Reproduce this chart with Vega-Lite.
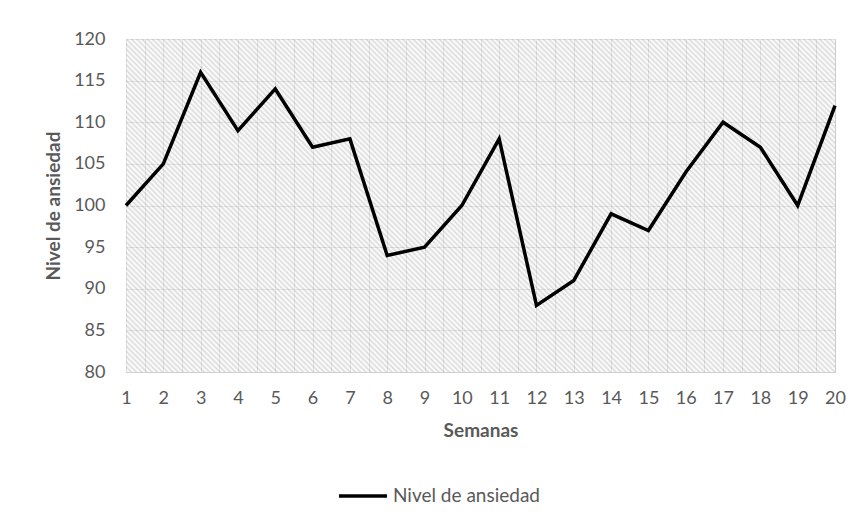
{
  "$schema": "https://vega.github.io/schema/vega-lite/v6.json",
  "width": 709,
  "height": 333,
  "autosize": "none",
  "padding": {"left": 126, "top": 39, "right": 25, "bottom": 150},
  "background": "white",
  "config": {"view": {"stroke": null, "fill": "white"}, "font": "Lato", "axis": {"labelOverlap": false, "grid": true}},
  "data": {"values": [
    {"semana": 1, "nivel": 100, "serie": "Nivel de ansiedad"},
    {"semana": 2, "nivel": 105, "serie": "Nivel de ansiedad"},
    {"semana": 3, "nivel": 116, "serie": "Nivel de ansiedad"},
    {"semana": 4, "nivel": 109, "serie": "Nivel de ansiedad"},
    {"semana": 5, "nivel": 114, "serie": "Nivel de ansiedad"},
    {"semana": 6, "nivel": 107, "serie": "Nivel de ansiedad"},
    {"semana": 7, "nivel": 108, "serie": "Nivel de ansiedad"},
    {"semana": 8, "nivel": 94, "serie": "Nivel de ansiedad"},
    {"semana": 9, "nivel": 95, "serie": "Nivel de ansiedad"},
    {"semana": 10, "nivel": 100, "serie": "Nivel de ansiedad"},
    {"semana": 11, "nivel": 108, "serie": "Nivel de ansiedad"},
    {"semana": 12, "nivel": 88, "serie": "Nivel de ansiedad"},
    {"semana": 13, "nivel": 91, "serie": "Nivel de ansiedad"},
    {"semana": 14, "nivel": 99, "serie": "Nivel de ansiedad"},
    {"semana": 15, "nivel": 97, "serie": "Nivel de ansiedad"},
    {"semana": 16, "nivel": 104, "serie": "Nivel de ansiedad"},
    {"semana": 17, "nivel": 110, "serie": "Nivel de ansiedad"},
    {"semana": 18, "nivel": 107, "serie": "Nivel de ansiedad"},
    {"semana": 19, "nivel": 100, "serie": "Nivel de ansiedad"},
    {"semana": 20, "nivel": 112, "serie": "Nivel de ansiedad"}
  ]},
  "layer": [
    {
      "data": {"values": [{}]},
      "mark": {"type": "rect", "opacity": 0.6, "fill": {"gradient": "linear", "x1": 0, "y1": 1, "x2": 1.204, "y2": 0.434, "stops": [
{"offset":0,"color":"#c4c4c4"},{"offset":0.0025,"color":"#ffffff"},{"offset":0.005,"color":"#c4c4c4"},{"offset":0.0075,"color":"#ffffff"},
{"offset":0.01,"color":"#c4c4c4"},{"offset":0.0125,"color":"#ffffff"},{"offset":0.015,"color":"#c4c4c4"},{"offset":0.0175,"color":"#ffffff"},
{"offset":0.02,"color":"#c4c4c4"},{"offset":0.0225,"color":"#ffffff"},{"offset":0.025,"color":"#c4c4c4"},{"offset":0.0275,"color":"#ffffff"},
{"offset":0.03,"color":"#c4c4c4"},{"offset":0.0325,"color":"#ffffff"},{"offset":0.035,"color":"#c4c4c4"},{"offset":0.0375,"color":"#ffffff"},
{"offset":0.04,"color":"#c4c4c4"},{"offset":0.0425,"color":"#ffffff"},{"offset":0.045,"color":"#c4c4c4"},{"offset":0.0475,"color":"#ffffff"},
{"offset":0.05,"color":"#c4c4c4"},{"offset":0.0525,"color":"#ffffff"},{"offset":0.055,"color":"#c4c4c4"},{"offset":0.0575,"color":"#ffffff"},
{"offset":0.06,"color":"#c4c4c4"},{"offset":0.0625,"color":"#ffffff"},{"offset":0.065,"color":"#c4c4c4"},{"offset":0.0675,"color":"#ffffff"},
{"offset":0.07,"color":"#c4c4c4"},{"offset":0.0725,"color":"#ffffff"},{"offset":0.075,"color":"#c4c4c4"},{"offset":0.0775,"color":"#ffffff"},
{"offset":0.08,"color":"#c4c4c4"},{"offset":0.0825,"color":"#ffffff"},{"offset":0.085,"color":"#c4c4c4"},{"offset":0.0875,"color":"#ffffff"},
{"offset":0.09,"color":"#c4c4c4"},{"offset":0.0925,"color":"#ffffff"},{"offset":0.095,"color":"#c4c4c4"},{"offset":0.0975,"color":"#ffffff"},
{"offset":0.1,"color":"#c4c4c4"},{"offset":0.1025,"color":"#ffffff"},{"offset":0.105,"color":"#c4c4c4"},{"offset":0.1075,"color":"#ffffff"},
{"offset":0.11,"color":"#c4c4c4"},{"offset":0.1125,"color":"#ffffff"},{"offset":0.115,"color":"#c4c4c4"},{"offset":0.1175,"color":"#ffffff"},
{"offset":0.12,"color":"#c4c4c4"},{"offset":0.1225,"color":"#ffffff"},{"offset":0.125,"color":"#c4c4c4"},{"offset":0.1275,"color":"#ffffff"},
{"offset":0.13,"color":"#c4c4c4"},{"offset":0.1325,"color":"#ffffff"},{"offset":0.135,"color":"#c4c4c4"},{"offset":0.1375,"color":"#ffffff"},
{"offset":0.14,"color":"#c4c4c4"},{"offset":0.1425,"color":"#ffffff"},{"offset":0.145,"color":"#c4c4c4"},{"offset":0.1475,"color":"#ffffff"},
{"offset":0.15,"color":"#c4c4c4"},{"offset":0.1525,"color":"#ffffff"},{"offset":0.155,"color":"#c4c4c4"},{"offset":0.1575,"color":"#ffffff"},
{"offset":0.16,"color":"#c4c4c4"},{"offset":0.1625,"color":"#ffffff"},{"offset":0.165,"color":"#c4c4c4"},{"offset":0.1675,"color":"#ffffff"},
{"offset":0.17,"color":"#c4c4c4"},{"offset":0.1725,"color":"#ffffff"},{"offset":0.175,"color":"#c4c4c4"},{"offset":0.1775,"color":"#ffffff"},
{"offset":0.18,"color":"#c4c4c4"},{"offset":0.1825,"color":"#ffffff"},{"offset":0.185,"color":"#c4c4c4"},{"offset":0.1875,"color":"#ffffff"},
{"offset":0.19,"color":"#c4c4c4"},{"offset":0.1925,"color":"#ffffff"},{"offset":0.195,"color":"#c4c4c4"},{"offset":0.1975,"color":"#ffffff"},
{"offset":0.2,"color":"#c4c4c4"},{"offset":0.2025,"color":"#ffffff"},{"offset":0.205,"color":"#c4c4c4"},{"offset":0.2075,"color":"#ffffff"},
{"offset":0.21,"color":"#c4c4c4"},{"offset":0.2125,"color":"#ffffff"},{"offset":0.215,"color":"#c4c4c4"},{"offset":0.2175,"color":"#ffffff"},
{"offset":0.22,"color":"#c4c4c4"},{"offset":0.2225,"color":"#ffffff"},{"offset":0.225,"color":"#c4c4c4"},{"offset":0.2275,"color":"#ffffff"},
{"offset":0.23,"color":"#c4c4c4"},{"offset":0.2325,"color":"#ffffff"},{"offset":0.235,"color":"#c4c4c4"},{"offset":0.2375,"color":"#ffffff"},
{"offset":0.24,"color":"#c4c4c4"},{"offset":0.2425,"color":"#ffffff"},{"offset":0.245,"color":"#c4c4c4"},{"offset":0.2475,"color":"#ffffff"},
{"offset":0.25,"color":"#c4c4c4"},{"offset":0.2525,"color":"#ffffff"},{"offset":0.255,"color":"#c4c4c4"},{"offset":0.2575,"color":"#ffffff"},
{"offset":0.26,"color":"#c4c4c4"},{"offset":0.2625,"color":"#ffffff"},{"offset":0.265,"color":"#c4c4c4"},{"offset":0.2675,"color":"#ffffff"},
{"offset":0.27,"color":"#c4c4c4"},{"offset":0.2725,"color":"#ffffff"},{"offset":0.275,"color":"#c4c4c4"},{"offset":0.2775,"color":"#ffffff"},
{"offset":0.28,"color":"#c4c4c4"},{"offset":0.2825,"color":"#ffffff"},{"offset":0.285,"color":"#c4c4c4"},{"offset":0.2875,"color":"#ffffff"},
{"offset":0.29,"color":"#c4c4c4"},{"offset":0.2925,"color":"#ffffff"},{"offset":0.295,"color":"#c4c4c4"},{"offset":0.2975,"color":"#ffffff"},
{"offset":0.3,"color":"#c4c4c4"},{"offset":0.3025,"color":"#ffffff"},{"offset":0.305,"color":"#c4c4c4"},{"offset":0.3075,"color":"#ffffff"},
{"offset":0.31,"color":"#c4c4c4"},{"offset":0.3125,"color":"#ffffff"},{"offset":0.315,"color":"#c4c4c4"},{"offset":0.3175,"color":"#ffffff"},
{"offset":0.32,"color":"#c4c4c4"},{"offset":0.3225,"color":"#ffffff"},{"offset":0.325,"color":"#c4c4c4"},{"offset":0.3275,"color":"#ffffff"},
{"offset":0.33,"color":"#c4c4c4"},{"offset":0.3325,"color":"#ffffff"},{"offset":0.335,"color":"#c4c4c4"},{"offset":0.3375,"color":"#ffffff"},
{"offset":0.34,"color":"#c4c4c4"},{"offset":0.3425,"color":"#ffffff"},{"offset":0.345,"color":"#c4c4c4"},{"offset":0.3475,"color":"#ffffff"},
{"offset":0.35,"color":"#c4c4c4"},{"offset":0.3525,"color":"#ffffff"},{"offset":0.355,"color":"#c4c4c4"},{"offset":0.3575,"color":"#ffffff"},
{"offset":0.36,"color":"#c4c4c4"},{"offset":0.3625,"color":"#ffffff"},{"offset":0.365,"color":"#c4c4c4"},{"offset":0.3675,"color":"#ffffff"},
{"offset":0.37,"color":"#c4c4c4"},{"offset":0.3725,"color":"#ffffff"},{"offset":0.375,"color":"#c4c4c4"},{"offset":0.3775,"color":"#ffffff"},
{"offset":0.38,"color":"#c4c4c4"},{"offset":0.3825,"color":"#ffffff"},{"offset":0.385,"color":"#c4c4c4"},{"offset":0.3875,"color":"#ffffff"},
{"offset":0.39,"color":"#c4c4c4"},{"offset":0.3925,"color":"#ffffff"},{"offset":0.395,"color":"#c4c4c4"},{"offset":0.3975,"color":"#ffffff"},
{"offset":0.4,"color":"#c4c4c4"},{"offset":0.4025,"color":"#ffffff"},{"offset":0.405,"color":"#c4c4c4"},{"offset":0.4075,"color":"#ffffff"},
{"offset":0.41,"color":"#c4c4c4"},{"offset":0.4125,"color":"#ffffff"},{"offset":0.415,"color":"#c4c4c4"},{"offset":0.4175,"color":"#ffffff"},
{"offset":0.42,"color":"#c4c4c4"},{"offset":0.4225,"color":"#ffffff"},{"offset":0.425,"color":"#c4c4c4"},{"offset":0.4275,"color":"#ffffff"},
{"offset":0.43,"color":"#c4c4c4"},{"offset":0.4325,"color":"#ffffff"},{"offset":0.435,"color":"#c4c4c4"},{"offset":0.4375,"color":"#ffffff"},
{"offset":0.44,"color":"#c4c4c4"},{"offset":0.4425,"color":"#ffffff"},{"offset":0.445,"color":"#c4c4c4"},{"offset":0.4475,"color":"#ffffff"},
{"offset":0.45,"color":"#c4c4c4"},{"offset":0.4525,"color":"#ffffff"},{"offset":0.455,"color":"#c4c4c4"},{"offset":0.4575,"color":"#ffffff"},
{"offset":0.46,"color":"#c4c4c4"},{"offset":0.4625,"color":"#ffffff"},{"offset":0.465,"color":"#c4c4c4"},{"offset":0.4675,"color":"#ffffff"},
{"offset":0.47,"color":"#c4c4c4"},{"offset":0.4725,"color":"#ffffff"},{"offset":0.475,"color":"#c4c4c4"},{"offset":0.4775,"color":"#ffffff"},
{"offset":0.48,"color":"#c4c4c4"},{"offset":0.4825,"color":"#ffffff"},{"offset":0.485,"color":"#c4c4c4"},{"offset":0.4875,"color":"#ffffff"},
{"offset":0.49,"color":"#c4c4c4"},{"offset":0.4925,"color":"#ffffff"},{"offset":0.495,"color":"#c4c4c4"},{"offset":0.4975,"color":"#ffffff"},
{"offset":0.5,"color":"#c4c4c4"},{"offset":0.5025,"color":"#ffffff"},{"offset":0.505,"color":"#c4c4c4"},{"offset":0.5075,"color":"#ffffff"},
{"offset":0.51,"color":"#c4c4c4"},{"offset":0.5125,"color":"#ffffff"},{"offset":0.515,"color":"#c4c4c4"},{"offset":0.5175,"color":"#ffffff"},
{"offset":0.52,"color":"#c4c4c4"},{"offset":0.5225,"color":"#ffffff"},{"offset":0.525,"color":"#c4c4c4"},{"offset":0.5275,"color":"#ffffff"},
{"offset":0.53,"color":"#c4c4c4"},{"offset":0.5325,"color":"#ffffff"},{"offset":0.535,"color":"#c4c4c4"},{"offset":0.5375,"color":"#ffffff"},
{"offset":0.54,"color":"#c4c4c4"},{"offset":0.5425,"color":"#ffffff"},{"offset":0.545,"color":"#c4c4c4"},{"offset":0.5475,"color":"#ffffff"},
{"offset":0.55,"color":"#c4c4c4"},{"offset":0.5525,"color":"#ffffff"},{"offset":0.555,"color":"#c4c4c4"},{"offset":0.5575,"color":"#ffffff"},
{"offset":0.56,"color":"#c4c4c4"},{"offset":0.5625,"color":"#ffffff"},{"offset":0.565,"color":"#c4c4c4"},{"offset":0.5675,"color":"#ffffff"},
{"offset":0.57,"color":"#c4c4c4"},{"offset":0.5725,"color":"#ffffff"},{"offset":0.575,"color":"#c4c4c4"},{"offset":0.5775,"color":"#ffffff"},
{"offset":0.58,"color":"#c4c4c4"},{"offset":0.5825,"color":"#ffffff"},{"offset":0.585,"color":"#c4c4c4"},{"offset":0.5875,"color":"#ffffff"},
{"offset":0.59,"color":"#c4c4c4"},{"offset":0.5925,"color":"#ffffff"},{"offset":0.595,"color":"#c4c4c4"},{"offset":0.5975,"color":"#ffffff"},
{"offset":0.6,"color":"#c4c4c4"},{"offset":0.6025,"color":"#ffffff"},{"offset":0.605,"color":"#c4c4c4"},{"offset":0.6075,"color":"#ffffff"},
{"offset":0.61,"color":"#c4c4c4"},{"offset":0.6125,"color":"#ffffff"},{"offset":0.615,"color":"#c4c4c4"},{"offset":0.6175,"color":"#ffffff"},
{"offset":0.62,"color":"#c4c4c4"},{"offset":0.6225,"color":"#ffffff"},{"offset":0.625,"color":"#c4c4c4"},{"offset":0.6275,"color":"#ffffff"},
{"offset":0.63,"color":"#c4c4c4"},{"offset":0.6325,"color":"#ffffff"},{"offset":0.635,"color":"#c4c4c4"},{"offset":0.6375,"color":"#ffffff"},
{"offset":0.64,"color":"#c4c4c4"},{"offset":0.6425,"color":"#ffffff"},{"offset":0.645,"color":"#c4c4c4"},{"offset":0.6475,"color":"#ffffff"},
{"offset":0.65,"color":"#c4c4c4"},{"offset":0.6525,"color":"#ffffff"},{"offset":0.655,"color":"#c4c4c4"},{"offset":0.6575,"color":"#ffffff"},
{"offset":0.66,"color":"#c4c4c4"},{"offset":0.6625,"color":"#ffffff"},{"offset":0.665,"color":"#c4c4c4"},{"offset":0.6675,"color":"#ffffff"},
{"offset":0.67,"color":"#c4c4c4"},{"offset":0.6725,"color":"#ffffff"},{"offset":0.675,"color":"#c4c4c4"},{"offset":0.6775,"color":"#ffffff"},
{"offset":0.68,"color":"#c4c4c4"},{"offset":0.6825,"color":"#ffffff"},{"offset":0.685,"color":"#c4c4c4"},{"offset":0.6875,"color":"#ffffff"},
{"offset":0.69,"color":"#c4c4c4"},{"offset":0.6925,"color":"#ffffff"},{"offset":0.695,"color":"#c4c4c4"},{"offset":0.6975,"color":"#ffffff"},
{"offset":0.7,"color":"#c4c4c4"},{"offset":0.7025,"color":"#ffffff"},{"offset":0.705,"color":"#c4c4c4"},{"offset":0.7075,"color":"#ffffff"},
{"offset":0.71,"color":"#c4c4c4"},{"offset":0.7125,"color":"#ffffff"},{"offset":0.715,"color":"#c4c4c4"},{"offset":0.7175,"color":"#ffffff"},
{"offset":0.72,"color":"#c4c4c4"},{"offset":0.7225,"color":"#ffffff"},{"offset":0.725,"color":"#c4c4c4"},{"offset":0.7275,"color":"#ffffff"},
{"offset":0.73,"color":"#c4c4c4"},{"offset":0.7325,"color":"#ffffff"},{"offset":0.735,"color":"#c4c4c4"},{"offset":0.7375,"color":"#ffffff"},
{"offset":0.74,"color":"#c4c4c4"},{"offset":0.7425,"color":"#ffffff"},{"offset":0.745,"color":"#c4c4c4"},{"offset":0.7475,"color":"#ffffff"},
{"offset":0.75,"color":"#c4c4c4"},{"offset":0.7525,"color":"#ffffff"},{"offset":0.755,"color":"#c4c4c4"},{"offset":0.7575,"color":"#ffffff"},
{"offset":0.76,"color":"#c4c4c4"},{"offset":0.7625,"color":"#ffffff"},{"offset":0.765,"color":"#c4c4c4"},{"offset":0.7675,"color":"#ffffff"},
{"offset":0.77,"color":"#c4c4c4"},{"offset":0.7725,"color":"#ffffff"},{"offset":0.775,"color":"#c4c4c4"},{"offset":0.7775,"color":"#ffffff"},
{"offset":0.78,"color":"#c4c4c4"},{"offset":0.7825,"color":"#ffffff"},{"offset":0.785,"color":"#c4c4c4"},{"offset":0.7875,"color":"#ffffff"},
{"offset":0.79,"color":"#c4c4c4"},{"offset":0.7925,"color":"#ffffff"},{"offset":0.795,"color":"#c4c4c4"},{"offset":0.7975,"color":"#ffffff"},
{"offset":0.8,"color":"#c4c4c4"},{"offset":0.8025,"color":"#ffffff"},{"offset":0.805,"color":"#c4c4c4"},{"offset":0.8075,"color":"#ffffff"},
{"offset":0.81,"color":"#c4c4c4"},{"offset":0.8125,"color":"#ffffff"},{"offset":0.815,"color":"#c4c4c4"},{"offset":0.8175,"color":"#ffffff"},
{"offset":0.82,"color":"#c4c4c4"},{"offset":0.8225,"color":"#ffffff"},{"offset":0.825,"color":"#c4c4c4"},{"offset":0.8275,"color":"#ffffff"},
{"offset":0.83,"color":"#c4c4c4"},{"offset":0.8325,"color":"#ffffff"},{"offset":0.835,"color":"#c4c4c4"},{"offset":0.8375,"color":"#ffffff"},
{"offset":0.84,"color":"#c4c4c4"},{"offset":0.8425,"color":"#ffffff"},{"offset":0.845,"color":"#c4c4c4"},{"offset":0.8475,"color":"#ffffff"},
{"offset":0.85,"color":"#c4c4c4"},{"offset":0.8525,"color":"#ffffff"},{"offset":0.855,"color":"#c4c4c4"},{"offset":0.8575,"color":"#ffffff"},
{"offset":0.86,"color":"#c4c4c4"},{"offset":0.8625,"color":"#ffffff"},{"offset":0.865,"color":"#c4c4c4"},{"offset":0.8675,"color":"#ffffff"},
{"offset":0.87,"color":"#c4c4c4"},{"offset":0.8725,"color":"#ffffff"},{"offset":0.875,"color":"#c4c4c4"},{"offset":0.8775,"color":"#ffffff"},
{"offset":0.88,"color":"#c4c4c4"},{"offset":0.8825,"color":"#ffffff"},{"offset":0.885,"color":"#c4c4c4"},{"offset":0.8875,"color":"#ffffff"},
{"offset":0.89,"color":"#c4c4c4"},{"offset":0.8925,"color":"#ffffff"},{"offset":0.895,"color":"#c4c4c4"},{"offset":0.8975,"color":"#ffffff"},
{"offset":0.9,"color":"#c4c4c4"},{"offset":0.9025,"color":"#ffffff"},{"offset":0.905,"color":"#c4c4c4"},{"offset":0.9075,"color":"#ffffff"},
{"offset":0.91,"color":"#c4c4c4"},{"offset":0.9125,"color":"#ffffff"},{"offset":0.915,"color":"#c4c4c4"},{"offset":0.9175,"color":"#ffffff"},
{"offset":0.92,"color":"#c4c4c4"},{"offset":0.9225,"color":"#ffffff"},{"offset":0.925,"color":"#c4c4c4"},{"offset":0.9275,"color":"#ffffff"},
{"offset":0.93,"color":"#c4c4c4"},{"offset":0.9325,"color":"#ffffff"},{"offset":0.935,"color":"#c4c4c4"},{"offset":0.9375,"color":"#ffffff"},
{"offset":0.94,"color":"#c4c4c4"},{"offset":0.9425,"color":"#ffffff"},{"offset":0.945,"color":"#c4c4c4"},{"offset":0.9475,"color":"#ffffff"},
{"offset":0.95,"color":"#c4c4c4"},{"offset":0.9525,"color":"#ffffff"},{"offset":0.955,"color":"#c4c4c4"},{"offset":0.9575,"color":"#ffffff"},
{"offset":0.96,"color":"#c4c4c4"},{"offset":0.9625,"color":"#ffffff"},{"offset":0.965,"color":"#c4c4c4"},{"offset":0.9675,"color":"#ffffff"},
{"offset":0.97,"color":"#c4c4c4"},{"offset":0.9725,"color":"#ffffff"},{"offset":0.975,"color":"#c4c4c4"},{"offset":0.9775,"color":"#ffffff"},
{"offset":0.98,"color":"#c4c4c4"},{"offset":0.9825,"color":"#ffffff"},{"offset":0.985,"color":"#c4c4c4"},{"offset":0.9875,"color":"#ffffff"},
{"offset":0.99,"color":"#c4c4c4"},{"offset":0.9925,"color":"#ffffff"},{"offset":0.995,"color":"#c4c4c4"},{"offset":0.9975,"color":"#ffffff"},
{"offset":1,"color":"#c4c4c4"}
      ]}},
      "encoding": {
        "x": {
          "datum": 1, "type": "quantitative",
          "scale": {"domain": [1, 20], "nice": false, "zero": false},
          "axis": {
            "values": [1, 1.5, 2, 2.5, 3, 3.5, 4, 4.5, 5, 5.5, 6, 6.5, 7, 7.5, 8, 8.5, 9, 9.5, 10, 10.5, 11, 11.5, 12, 12.5, 13, 13.5, 14, 14.5, 15, 15.5, 16, 16.5, 17, 17.5, 18, 18.5, 19, 19.5, 20],
            "labelExpr": "datum.value % 1 === 0 ? format(datum.value, 'd') : ''",
            "labelOverlap": false, "labelFlush": false, "labelBound": false, "grid": true,
            "title": "Semanas", "ticks": false,
            "domainColor": "#d0d0d0", "gridColor": "#cccccc",
            "labelColor": "#595959", "labelFontSize": 18, "labelPadding": 17,
            "titleFontSize": 19, "titleFontWeight": "bold", "titleColor": "#595959", "titlePadding": 14
          }
        },
        "x2": {"datum": 20},
        "y": {
          "datum": 80, "type": "quantitative",
          "scale": {"domain": [80, 120], "nice": false, "zero": false},
          "axis": {
            "values": [80, 85, 90, 95, 100, 105, 110, 115, 120],
            "title": "Nivel de ansiedad", "domain": false, "ticks": false, "grid": true, "labelOverlap": false,
            "gridColor": "#cccccc", "labelColor": "#595959", "labelFontSize": 18, "labelPadding": 21,
            "titleFontSize": 19, "titleFontWeight": "bold", "titleColor": "#595959", "titlePadding": 10
          }
        },
        "y2": {"datum": 120}
      }
    },
    {
      "mark": {"type": "line", "strokeWidth": 3.5},
      "encoding": {
        "x": {
          "field": "semana", "type": "quantitative",
          "scale": {"domain": [1, 20], "nice": false, "zero": false},
          "axis": {
            "values": [1, 1.5, 2, 2.5, 3, 3.5, 4, 4.5, 5, 5.5, 6, 6.5, 7, 7.5, 8, 8.5, 9, 9.5, 10, 10.5, 11, 11.5, 12, 12.5, 13, 13.5, 14, 14.5, 15, 15.5, 16, 16.5, 17, 17.5, 18, 18.5, 19, 19.5, 20],
            "labelExpr": "datum.value % 1 === 0 ? format(datum.value, 'd') : ''",
            "labelOverlap": false, "labelFlush": false, "labelBound": false, "grid": true,
            "title": "Semanas", "ticks": false,
            "domainColor": "#d0d0d0", "gridColor": "#cccccc",
            "labelColor": "#595959", "labelFontSize": 18, "labelPadding": 17,
            "titleFontSize": 19, "titleFontWeight": "bold", "titleColor": "#595959", "titlePadding": 14
          }
        },
        "y": {
          "field": "nivel", "type": "quantitative",
          "scale": {"domain": [80, 120], "nice": false, "zero": false},
          "axis": {
            "values": [80, 85, 90, 95, 100, 105, 110, 115, 120],
            "title": "Nivel de ansiedad", "domain": false, "ticks": false, "grid": true, "labelOverlap": false,
            "gridColor": "#cccccc", "labelColor": "#595959", "labelFontSize": 18, "labelPadding": 21,
            "titleFontSize": 19, "titleFontWeight": "bold", "titleColor": "#595959", "titlePadding": 10
          }
        },
        "color": {
          "field": "serie", "type": "nominal",
          "scale": {"range": ["black"]},
          "legend": {
            "orient": "none", "legendX": 211, "legendY": 431,
            "title": null,
            "symbolType": "stroke", "symbolSize": 2304, "symbolStrokeWidth": 3.5,
            "labelFontSize": 19, "labelColor": "#595959", "labelOffset": 4
          }
        }
      }
    }
  ]
}
